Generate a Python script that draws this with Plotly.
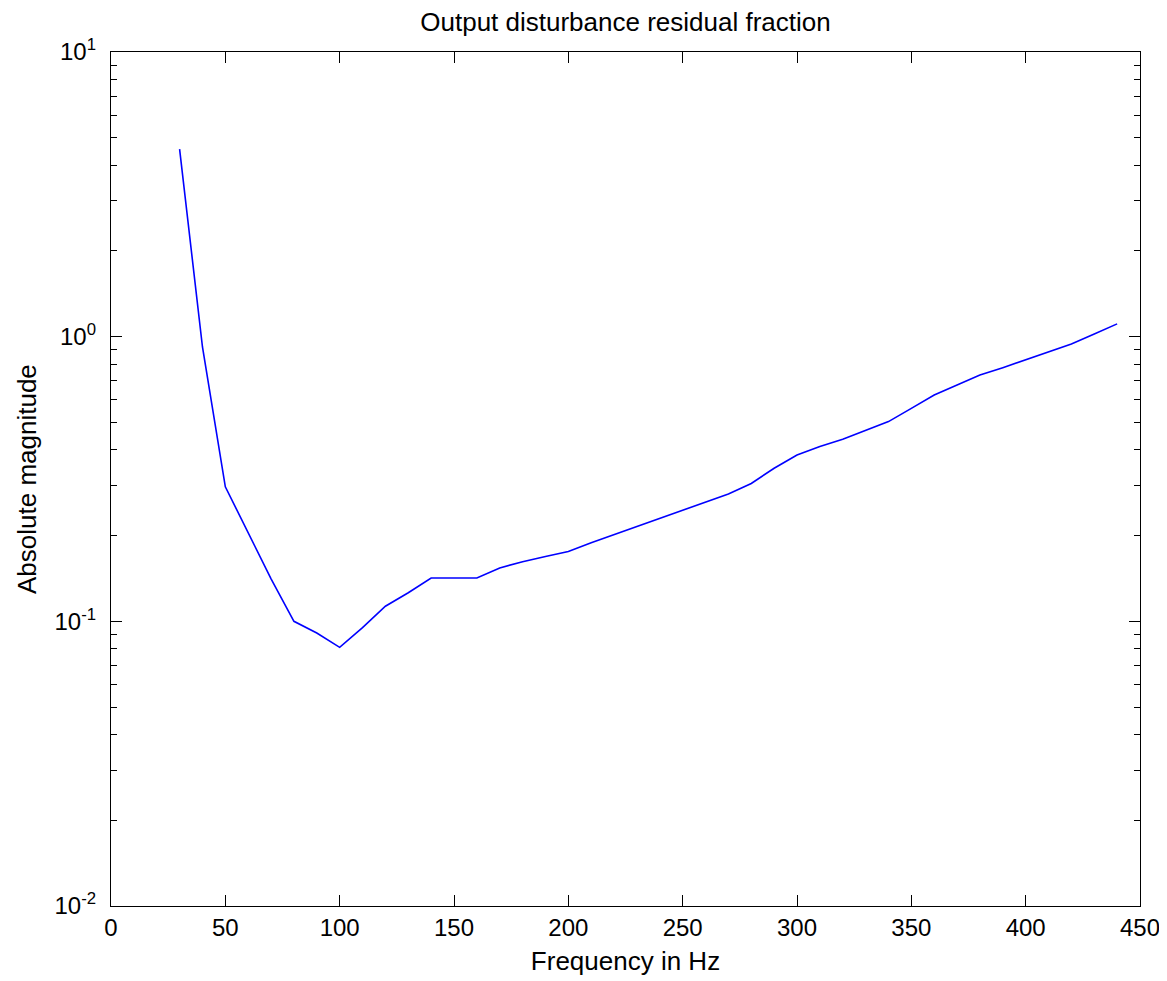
import plotly.graph_objects as go

freq_hz = [30, 40, 50, 60, 70, 80, 90, 100, 110, 120, 130, 140, 150, 160, 170, 180,
           190, 200, 210, 220, 230, 240, 250, 260, 270, 280, 290, 300, 310, 320, 330,
           340, 350, 360, 370, 380, 390, 400, 410, 420, 430, 440]
residual = [4.56, 0.92, 0.297, 0.205, 0.141, 0.100, 0.091, 0.081, 0.095, 0.113, 0.126,
            0.142, 0.142, 0.142, 0.154, 0.162, 0.169, 0.176, 0.189, 0.202, 0.215, 0.230,
            0.245, 0.263, 0.280, 0.305, 0.345, 0.384, 0.411, 0.436, 0.467, 0.503, 0.560,
            0.624, 0.676, 0.733, 0.778, 0.828, 0.886, 0.942, 1.022, 1.109]

x_ticks = [0, 50, 100, 150, 200, 250, 300, 350, 400, 450]
y_ticks = [0.01, 0.1, 1, 10]
y_ticktext = ["10<sup>-2</sup>", "10<sup>-1</sup>", "10<sup>0</sup>", "10<sup>1</sup>"]
y_minor = [m * d for d in [0.01, 0.1, 1] for m in range(2, 10)]

FONT = "Liberation Sans, Arial, sans-serif"
W, H = 1159, 973  # page body is offset by an 8px margin
ML, MR, MT, MB = 103, 27, 44, 75
plot_w = W - ML - MR

fig = go.Figure()
fig.add_trace(go.Scatter(x=freq_hz, y=residual, mode="lines",
                         line=dict(color="#0000ff", width=1.6), showlegend=False))

fig.update_layout(
    width=W, height=H,
    margin=dict(l=ML, r=MR, t=MT, b=MB, autoexpand=False),
    paper_bgcolor="white", plot_bgcolor="white",
    font=dict(family=FONT, size=24, color="black"),
    title=dict(text="Output disturbance residual fraction", x=0.5, xref="paper",
               y=1 - 14 / H, yref="container", yanchor="middle", xanchor="center",
               font=dict(size=26, family=FONT, color="black")),
    annotations=[dict(text="Absolute magnitude", textangle=-90, showarrow=False,
                      xref="paper", yref="paper", x=(19 - ML) / plot_w, y=0.5,
                      xanchor="center", yanchor="middle",
                      font=dict(size=26, family=FONT, color="black"))],
)

fig.update_xaxes(
    range=[0, 450], tickmode="array", tickvals=x_ticks, automargin=False,
    showline=True, linecolor="black", linewidth=1.3, mirror="ticks",
    ticks="inside", ticklen=11, tickwidth=1.3, tickcolor="black",
    ticklabeloverflow="allow",
    showgrid=False, zeroline=False,
    tickfont=dict(size=24, family=FONT),
    title=dict(text="Frequency in Hz", font=dict(size=26, family=FONT), standoff=11),
)
fig.update_yaxes(
    type="log", range=[-2, 1], tickmode="array", tickvals=y_ticks, ticktext=y_ticktext,
    automargin=False,
    showline=True, linecolor="black", linewidth=1.3, mirror="ticks",
    ticks="inside", ticklen=11, tickwidth=1.3, tickcolor="black",
    ticklabelstandoff=9,
    minor=dict(tickmode="array", tickvals=y_minor, ticks="inside", ticklen=6,
               tickwidth=1.3, tickcolor="black", showgrid=False),
    showgrid=False, zeroline=False,
    tickfont=dict(size=24, family=FONT),
)

fig.write_html("out.html")
